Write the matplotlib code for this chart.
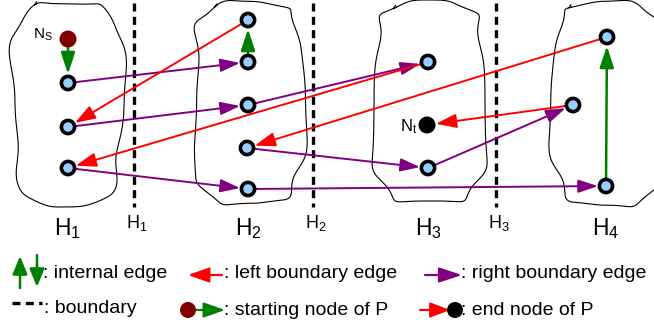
import numpy as np
import matplotlib
matplotlib.use('Agg')
import matplotlib.pyplot as plt
from matplotlib.patches import FancyArrowPatch, Circle

plt.rcParams['font.family'] = ['Liberation Sans', 'DejaVu Sans']
plt.rcParams['mathtext.default'] = 'regular'

# node positions (pixel coords of the original picture)
node_names = ['s', 'a1', 'a2', 'a3', 'b1', 'b2', 'b3', 'b4', 'b5',
              'c1', 't', 'c3', 'd1', 'd2', 'd3']
node_x = [68, 68, 68, 68, 248, 248, 248, 247, 248, 428, 427, 428, 607, 573, 606]
node_y = [39, 83, 127, 168, 20, 62, 105, 148, 189, 62, 125, 168, 37, 105, 186]

internal_edges = [('s', 'a1'), ('b2', 'b1'), ('d3', 'd1')]
right_edges = [('a1', 'b2'), ('a2', 'b3'), ('a3', 'b5'), ('b3', 'c1'),
               ('b4', 'c3'), ('b5', 'd3'), ('c3', 'd2')]
left_edges = [('b1', 'a2'), ('c1', 'a3'), ('d1', 'b4'), ('d2', 't')]

columns = ['H$_1$', 'H$_2$', 'H$_3$', 'H$_4$']
column_x = [67, 248, 428, 606]
boundaries = ['H$_1$', 'H$_2$', 'H$_3$']
boundary_x = [134, 313, 496]

# blob outlines: left, right, top, bottom, wobble phase
blob_boxes = [(13, 122, 2, 205, 0.3), (194, 303, 2, 204, 1.9),
              (374, 485, 2, 203, 3.1), (553, 662, 2, 206, 4.3)]

GREEN = '#008000'
RED = '#ff0000'
PURPLE = '#800080'
LIGHT = '#99ccff'

pos = {n: (x, y) for n, x, y in zip(node_names, node_x, node_y)}

fig = plt.figure(figsize=(6.54, 3.27), dpi=100)
ax = fig.add_axes([0, 0, 1, 1])
ax.set_xlim(0, 654)
ax.set_ylim(327, 0)
ax.axis('off')


def arrow(p0, p1, color, lw=1.4, hl=12, hw=4.2, shrink=5.8, z=3):
    a = FancyArrowPatch(p0, p1, arrowstyle=f'-|>,head_length={hl},head_width={hw}',
                        mutation_scale=1, color=color, lw=lw, shrinkA=0,
                        shrinkB=shrink, zorder=z)
    ax.add_patch(a)


# wavy regions
for x0, x1, y0, y1, ph in blob_boxes:
    t = np.linspace(0.62 * np.pi, 2.62 * np.pi + 0.05, 600)
    c, s = np.cos(t), np.sin(t)
    cx, cy = (x0 + x1) / 2, (y0 + y1) / 2
    a, b = (x1 - x0) / 2, (y1 - y0) / 2
    wob = 1 + 0.07 * np.sin(5 * t + ph) + 0.03 * np.sin(9 * t + 2 * ph)
    xs = cx + a * np.sign(c) * np.abs(c) ** 0.5 * wob
    ys = cy - b * np.sign(s) * np.abs(s) ** 0.5 * (1 + 0.02 * np.sin(7 * t + ph))
    ax.plot(xs, ys, color='black', lw=0.8, zorder=1)
    # small hook where the outline closes
    ax.plot([xs[-1], xs[-1] + 2], [ys[-1], ys[-1] - 3], color='black', lw=0.8, zorder=1)

# boundaries
for bx in boundary_x:
    ax.plot([bx, bx], [3, 207], color='black', lw=2.4, dashes=(2.4, 1.6), zorder=2)

for u, v in right_edges:
    arrow(pos[u], pos[v], PURPLE, hl=12, hw=4)
for u, v in left_edges:
    arrow(pos[u], pos[v], RED, hl=12.5, hw=4.3, shrink=6.5 if v == 't' else 5.8)
for u, v in internal_edges:
    arrow(pos[u], pos[v], GREEN, lw=1.8, hl=13, hw=4.3, shrink=6.5)

# nodes
for n in node_names:
    if n == 's':
        ax.add_patch(Circle(pos[n], 8.5, fc='#800000', ec='none', zorder=5))
    elif n == 't':
        ax.add_patch(Circle(pos[n], 8.5, fc='black', ec='none', zorder=5))
    else:
        ax.add_patch(Circle(pos[n], 6.6, fc=LIGHT, ec='black', lw=2.6, zorder=5))

ax.text(53, 39, 'N$_S$', fontsize=11, ha='right', va='baseline')
ax.text(417, 131, 'N$_t$', fontsize=12, ha='right', va='baseline')

for lab, x in zip(columns, column_x):
    ax.text(x, 235, lab, fontsize=16.5, ha='center', va='baseline')
for lab, x in zip(boundaries, boundary_x):
    ax.text(x + 3, 228, lab, fontsize=13, ha='center', va='baseline')

# legend
arrow((20, 288), (20, 256), GREEN, lw=1.8, hl=11, hw=4.5, shrink=0)
arrow((37, 255), (37, 287), GREEN, lw=1.8, hl=11, hw=4.5, shrink=0)
ax.text(43, 278, ': internal edge', fontsize=14, va='baseline')
arrow((222, 275), (188, 275), RED, lw=1.6, hl=13, hw=4.6, shrink=0)
ax.text(224, 278, ': left boundary edge', fontsize=14, va='baseline')
arrow((425, 275), (462, 275), PURPLE, lw=1.6, hl=14, hw=4.6, shrink=0)
ax.text(461, 278, ': right boundary edge', fontsize=14, va='baseline')

ax.plot([12, 42], [303, 303], color='black', lw=2.4, dashes=(2.4, 1.6))
ax.text(44, 313, ': boundary', fontsize=14, va='baseline')
ax.add_patch(Circle((188, 310), 8, fc='#800000', ec='none', zorder=5))
arrow((196, 310), (225, 310), GREEN, lw=1.6, hl=13, hw=4.6, shrink=0)
ax.text(224, 315, ': starting node of P', fontsize=14, va='baseline')
arrow((420, 310), (450, 310), RED, lw=1.6, hl=12, hw=4.6, shrink=0)
ax.add_patch(Circle((455, 310), 8, fc='black', ec='none', zorder=5))
ax.text(461, 315, ': end node of P', fontsize=14, va='baseline')

fig.savefig('out.png', dpi=100)
